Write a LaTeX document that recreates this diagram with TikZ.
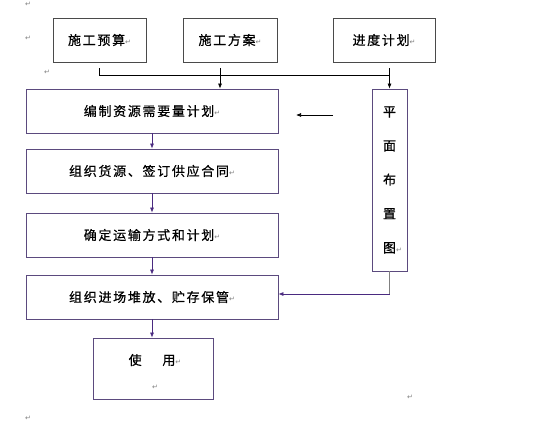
\documentclass[tikz,border=0pt]{standalone}
\usepackage{fontspec}
\newfontfamily\cjk[LetterSpace=13,FakeBold=0.6]{Noto Sans CJK SC}
\newfontfamily\symf{DejaVu Sans}
\usetikzlibrary{arrows.meta}
\definecolor{boxc}{HTML}{5B4A7E}
\definecolor{topc}{HTML}{4A4A4A}
\definecolor{arrc}{HTML}{4A2A80}
\newcommand\rmk{{\symf\fontsize{7}{7}\selectfont\color{gray}↵}}
\tikzset{
  box/.style={draw=boxc, line width=0.8pt, inner sep=0pt, font=\cjk\fontsize{13}{13}\selectfont},
  topbox/.style={box, draw=topc},
  txt/.style={inner sep=0pt, font=\cjk\fontsize{13}{13}\selectfont},
  retmark/.style={inner sep=0pt},
  blk/.style={draw=black, line width=0.7pt},
  parr/.style={draw=arrc, line width=0.7pt, -{Latex[length=5pt,width=4pt]}},
  barr/.style={blk, -{Latex[length=5pt,width=4pt]}},
}
\begin{document}
\begin{tikzpicture}[x=1pt,y=-1pt]
\useasboundingbox[fill=white] (0,0) rectangle (560,421);
% top boxes
\node[topbox, minimum width=93pt, minimum height=44pt] (ys) at (99.5,40) {施工预算\rmk};
\node[topbox, minimum width=94pt, minimum height=44pt] (fa) at (230,40) {施工方案\rmk};
\node[topbox, minimum width=102pt, minimum height=44pt] (jd) at (384,40) {进度计划\rmk};
% main column
\node[box, minimum width=252pt, minimum height=44pt] (b1) at (152,111) {编制资源需要量计划\rmk};
\node[box, minimum width=252pt, minimum height=44pt] (b2) at (152,171) {组织货源、签订供应合同\rmk};
\node[box, minimum width=252pt, minimum height=44pt] (b3) at (152,235) {确定运输方式和计划\rmk};
\node[box, minimum width=252pt, minimum height=44pt] (b4) at (152,297) {组织进场堆放、贮存保管\rmk};
\node[box, minimum width=120pt, minimum height=61pt] (b5) at (153,368.5) {};
\node[txt] (u1) at (155,360) {使\hspace{1.6em}用\rmk};
\node[retmark] (u2) at (155,387) {\rmk};
% vertical box
\node[box, minimum width=35pt, minimum height=182pt, align=center,
      font=\cjk\fontsize{13}{34}\selectfont] (pm) at (389.5,180) {平\\面\\布\\置\\图\rlap{\rmk}};
% top connectors
\coordinate (h1) at (99.5,75);
\coordinate (h2) at (389.5,75);
\draw[blk] ([yshift=-6pt]ys.south) -- (h1) -- (h2);
\draw[barr] ([xshift=-10pt,yshift=-6pt]fa.south) -- ([xshift=-10pt]fa.south |- b1.north);
\draw[barr] ([yshift=-6pt]jd.south -| pm.north) -- (pm.north);
% free arrow
\coordinate (fr1) at (333,115);
\coordinate (fr2) at (296,115);
\draw[barr] (fr1) -- (fr2);
% column arrows
\draw[parr] (b1.south) -- (b2.north);
\draw[parr] (b2.south) -- (b3.north);
\draw[parr] (b3.south) -- (b4.north);
\draw[parr] (b4.south) -- (b4.south |- b5.north);
% from plan to storage
\coordinate (b4p) at ([yshift=3pt]b4.east);
\coordinate (pc) at (pm.south |- b4p);
\draw[draw=gray, line width=0.7pt] (pm.south) -- (pc);
\draw[parr] (pc) -- (b4p);
% stray return marks
\node[retmark] (r1) at (28,4) {\rmk};
\node[retmark] (r2) at (28,38) {\rmk};
\node[retmark] (r3) at (47,72) {\rmk};
\node[retmark] (r4) at (410,397) {\rmk};
\node[retmark] (r5) at (28,418) {\rmk};
\end{tikzpicture}
\end{document}
